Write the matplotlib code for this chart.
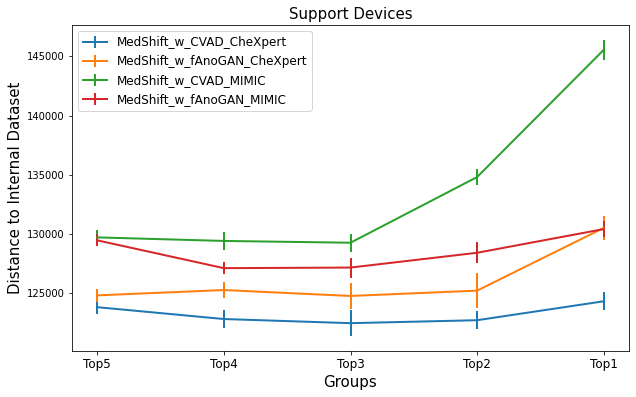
import matplotlib
matplotlib.use("Agg")
import matplotlib.pyplot as plt

# ---------------------------------------------------------------------------
# Data
# ---------------------------------------------------------------------------

groups = ["Top5", "Top4", "Top3", "Top2", "Top1"]

cvad_chexpert     = [123800, 122800, 122450, 122700, 124300]
cvad_chexpert_err = [600, 750, 1100, 750, 750]

fanogan_chexpert     = [124800, 125250, 124750, 125200, 130500]
fanogan_chexpert_err = [550, 700, 1100, 1450, 1050]

cvad_mimic     = [129700, 129400, 129250, 134800, 145550]
cvad_mimic_err = [650, 750, 750, 650, 850]

fanogan_mimic     = [129450, 127100, 127150, 128400, 130400]
fanogan_mimic_err = [500, 500, 850, 900, 700]

series = [
    ("MedShift_w_CVAD_CheXpert", cvad_chexpert, cvad_chexpert_err),
    ("MedShift_w_fAnoGAN_CheXpert", fanogan_chexpert, fanogan_chexpert_err),
    ("MedShift_w_CVAD_MIMIC", cvad_mimic, cvad_mimic_err),
    ("MedShift_w_fAnoGAN_MIMIC", fanogan_mimic, fanogan_mimic_err),
]

# ---------------------------------------------------------------------------
# Plot
# ---------------------------------------------------------------------------

DPI = 72
fig = plt.figure(figsize=(636 / DPI, 397 / DPI), dpi=DPI)
ax = fig.add_axes([72 / 636, 1 - 351 / 397, (629 - 72) / 636, (351 - 25) / 397])

x = range(len(groups))
for label, vals, err in series:
    ax.errorbar(x, vals, yerr=err, label=label, linewidth=2, elinewidth=2)

ax.set_xticks(list(x))
ax.set_xticklabels(groups, fontsize=12)
ax.tick_params(axis="y", labelsize=10)
ax.set_xlabel("Groups", fontsize=15)
ax.set_ylabel("Distance to Internal Dataset", fontsize=15)
ax.set_title("Support Devices", fontsize=15)
ax.legend(fontsize=12, loc="upper left")

fig.savefig("out.png", dpi=DPI)
